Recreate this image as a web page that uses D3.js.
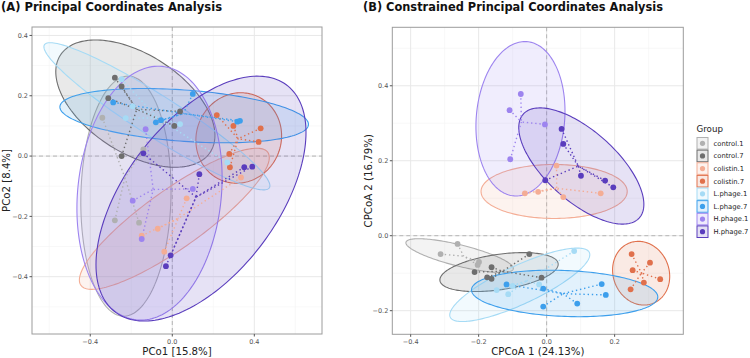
<!DOCTYPE html>
<html>
<head>
<meta charset="utf-8">
<script src="https://cdn.jsdelivr.net/npm/d3@7"></script>
<style>
  body { margin: 0; background: #fff; }
  svg { display: block; }
  text { font-family: "DejaVu Sans", sans-serif; }
</style>
</head>
<body>
<svg width="750" height="358"></svg>
<script>
// groups and colours
const groups = ["control.1", "control.7", "colistin.1", "colistin.7",
                "L.phage.1", "L.phage.7", "H.phage.1", "H.phage.7"];
const groupColors = ["#b0b0b0", "#6e6e6e", "#f4ad95", "#e0704c",
                     "#a6dbf5", "#3d9fec", "#9d84ef", "#5a3dbd"];

// (A) PCoA sample scores [group, PCo1, PCo2]
const pcoaPoints = [
  ["control.1", -0.341, 0.127], ["control.1", -0.141, 0.022], ["control.1", -0.280, -0.213], ["control.1", -0.162, -0.221],
  ["control.7", -0.280, 0.260], ["control.7", -0.247, 0.231], ["control.7", -0.312, 0.192], ["control.7", -0.247, 0.000],
  ["control.7", 0.010, 0.100], ["control.7", 0.038, 0.148],
  ["colistin.1", 0.335, -0.071], ["colistin.1", 0.070, -0.140], ["colistin.1", -0.071, -0.241], ["colistin.1", -0.149, -0.264],
  ["colistin.1", -0.039, -0.317],
  ["colistin.7", 0.217, 0.136], ["colistin.7", 0.298, 0.100], ["colistin.7", 0.431, 0.092], ["colistin.7", 0.421, 0.047],
  ["colistin.7", 0.278, 0.007], ["colistin.7", 0.281, -0.037],
  ["L.phage.1", -0.247, 0.255], ["L.phage.1", -0.227, 0.126], ["L.phage.1", -0.193, 0.165], ["L.phage.1", 0.038, 0.106],
  ["L.phage.1", 0.268, -0.021],
  ["L.phage.7", 0.100, 0.206], ["L.phage.7", -0.288, 0.178], ["L.phage.7", -0.080, 0.112], ["L.phage.7", -0.055, 0.119],
  ["L.phage.7", 0.317, 0.114], ["L.phage.7", 0.330, 0.117],
  ["H.phage.1", -0.130, 0.089], ["H.phage.1", -0.193, -0.148], ["H.phage.1", -0.149, -0.275], ["H.phage.1", 0.100, -0.109],
  ["H.phage.7", -0.141, 0.009], ["H.phage.7", 0.351, -0.037], ["H.phage.7", 0.390, -0.035], ["H.phage.7", 0.132, -0.060],
  ["H.phage.7", -0.008, -0.329], ["H.phage.7", -0.031, -0.365]
];

// (A) 95% ellipses [group, centre x, centre y, half-width x, half-height y, correlation]
const pcoaEllipses = [
  ["control.1", -0.226, -0.133, 0.220, 0.398, 0.05],
  ["control.7", -0.180, 0.174, 0.388, 0.211, -0.50],
  ["colistin.1", 0.010, -0.208, 0.463, 0.234, 0.868],
  ["colistin.7", 0.324, 0.060, 0.209, 0.150, 0.05],
  ["L.phage.1", -0.075, 0.132, 0.551, 0.244, -0.944],
  ["L.phage.7", 0.058, 0.134, 0.606, 0.090, -0.32],
  ["H.phage.1", -0.111, -0.123, 0.354, 0.421, 0.12],
  ["H.phage.7", 0.140, -0.141, 0.512, 0.406, 0.54]
];

// (B) CPCoA sample scores [group, CPCoA1, CPCoA2]
const cpcoaPoints = [
  ["control.1", -0.262, -0.022], ["control.1", -0.312, -0.049], ["control.1", -0.199, -0.070], ["control.1", -0.203, -0.078],
  ["control.7", -0.051, -0.049], ["control.7", -0.162, -0.084], ["control.7", -0.212, -0.097], ["control.7", -0.015, -0.112],
  ["control.7", -0.175, -0.111], ["control.7", -0.162, -0.115],
  ["colistin.1", 0.029, 0.187], ["colistin.1", -0.064, 0.113], ["colistin.1", -0.025, 0.117], ["colistin.1", 0.049, 0.103],
  ["colistin.1", 0.159, 0.113],
  ["colistin.7", 0.250, -0.049], ["colistin.7", 0.304, -0.072], ["colistin.7", 0.253, -0.092], ["colistin.7", 0.334, -0.116],
  ["colistin.7", 0.286, -0.125], ["colistin.7", 0.247, -0.143],
  ["L.phage.1", 0.081, -0.041], ["L.phage.1", -0.022, -0.130], ["L.phage.1", -0.100, -0.134], ["L.phage.1", -0.147, -0.145],
  ["L.phage.1", -0.113, -0.156],
  ["L.phage.7", -0.118, -0.130], ["L.phage.7", -0.010, -0.141], ["L.phage.7", 0.162, -0.129], ["L.phage.7", 0.174, -0.158],
  ["L.phage.7", 0.090, -0.181], ["L.phage.7", -0.010, -0.189],
  ["H.phage.1", -0.076, 0.378], ["H.phage.1", -0.109, 0.335], ["H.phage.1", -0.005, 0.297], ["H.phage.1", -0.107, 0.204],
  ["H.phage.7", 0.044, 0.285], ["H.phage.7", 0.049, 0.245], ["H.phage.7", 0.101, 0.160], ["H.phage.7", 0.172, 0.147],
  ["H.phage.7", 0.196, 0.129], ["H.phage.7", -0.004, 0.148]
];

const cpcoaEllipses = [
  ["control.1", -0.256, -0.053, 0.158, 0.045, -0.76],
  ["control.7", -0.140, -0.097, 0.174, 0.052, 0.40],
  ["colistin.1", 0.022, 0.118, 0.215, 0.072, 0.0],
  ["colistin.7", 0.278, -0.100, 0.084, 0.085, -0.10],
  ["L.phage.1", -0.079, -0.131, 0.206, 0.098, 0.82],
  ["L.phage.7", 0.053, -0.154, 0.274, 0.062, -0.15],
  ["H.phage.1", -0.077, 0.312, 0.131, 0.206, 0.10],
  ["H.phage.7", 0.102, 0.186, 0.184, 0.155, -0.66]
];

// axes
const pcoaXTicks = [-0.4, 0.0, 0.4];
const pcoaYTicks = [-0.4, -0.2, 0.0, 0.2, 0.4];
const cpcoaXTicks = [-0.4, -0.2, 0.0, 0.2];
const cpcoaYTicks = [-0.2, 0.0, 0.2, 0.4];

let svg = d3.select("svg");
const color = d3.scaleOrdinal(groups, groupColors);

function drawPanel(p) {
  const x = d3.scaleLinear(p.xDomain, [p.left, p.right]);
  const y = d3.scaleLinear(p.yDomain, [p.bottom, p.top]);
  const g = svg.append("g");

  g.append("rect")
    .attr("x", p.left).attr("y", p.top)
    .attr("width", p.right - p.left).attr("height", p.bottom - p.top)
    .attr("fill", "#fff");

  // minor grid halfway between the major ticks
  function minors(ticks, dom) {
    const step = ticks[1] - ticks[0];
    const out = [];
    for (let v = ticks[0] - step * 1.5; v <= dom[1]; v += step) {
      if (v >= dom[0]) out.push(v);
    }
    return out;
  }
  g.selectAll(".gxm").data(minors(p.xTicks, p.xDomain)).enter().append("line")
    .attr("x1", d => x(d)).attr("x2", d => x(d)).attr("y1", p.top).attr("y2", p.bottom)
    .attr("stroke", "#f3f3f3").attr("stroke-width", 0.6);
  g.selectAll(".gym").data(minors(p.yTicks, p.yDomain)).enter().append("line")
    .attr("y1", d => y(d)).attr("y2", d => y(d)).attr("x1", p.left).attr("x2", p.right)
    .attr("stroke", "#f3f3f3").attr("stroke-width", 0.6);
  g.selectAll(".gx").data(p.xTicks).enter().append("line")
    .attr("x1", d => x(d)).attr("x2", d => x(d)).attr("y1", p.top).attr("y2", p.bottom)
    .attr("stroke", "#e8e8e8").attr("stroke-width", 1);
  g.selectAll(".gy").data(p.yTicks).enter().append("line")
    .attr("y1", d => y(d)).attr("y2", d => y(d)).attr("x1", p.left).attr("x2", p.right)
    .attr("stroke", "#e8e8e8").attr("stroke-width", 1);

  // zero lines
  g.append("line").attr("x1", x(0)).attr("x2", x(0)).attr("y1", p.top).attr("y2", p.bottom)
    .attr("stroke", "#b5b5b5").attr("stroke-dasharray", "4,3");
  g.append("line").attr("y1", y(0)).attr("y2", y(0)).attr("x1", p.left).attr("x2", p.right)
    .attr("stroke", "#b5b5b5").attr("stroke-dasharray", "4,3");

  const clipId = "clip" + p.id;
  svg.append("clipPath").attr("id", clipId).append("rect")
    .attr("x", p.left).attr("y", p.top)
    .attr("width", p.right - p.left).attr("height", p.bottom - p.top);
  const plot = g.append("g").attr("clip-path", "url(#" + clipId + ")");

  // ellipses
  const ell = d3.line().x(d => x(d[0])).y(d => y(d[1])).curve(d3.curveLinearClosed);
  function ellipsePts(e) {
    const [, cx, cy, sx, sy, r] = e;
    const k = Math.sqrt(1 - r * r);
    return d3.range(0, 2 * Math.PI, Math.PI / 90)
      .map(t => [cx + sx * Math.cos(t), cy + sy * (r * Math.cos(t) + k * Math.sin(t))]);
  }
  plot.selectAll(".ell").data(p.ellipses).enter().append("path")
    .attr("d", d => ell(ellipsePts(d)))
    .attr("fill", d => color(d[0])).attr("fill-opacity", 0.15)
    .attr("stroke", d => color(d[0])).attr("stroke-width", 1.1);

  // spider lines to group centroids
  const cent = d3.rollup(p.points, v => [d3.mean(v, d => d[1]), d3.mean(v, d => d[2])], d => d[0]);
  plot.selectAll(".sp").data(p.points).enter().append("line")
    .attr("x1", d => x(d[1])).attr("y1", d => y(d[2]))
    .attr("x2", d => x(cent.get(d[0])[0])).attr("y2", d => y(cent.get(d[0])[1]))
    .attr("stroke", d => color(d[0])).attr("stroke-width", 1.4)
    .attr("stroke-dasharray", "1.4,2.8");

  plot.selectAll(".pt").data(p.points).enter().append("circle")
    .attr("cx", d => x(d[1])).attr("cy", d => y(d[2])).attr("r", 2.9)
    .attr("fill", d => color(d[0]));

  // border
  g.append("rect")
    .attr("x", p.left).attr("y", p.top)
    .attr("width", p.right - p.left).attr("height", p.bottom - p.top)
    .attr("fill", "none").attr("stroke", "#9c9c9c").attr("stroke-width", 1);

  // ticks
  g.selectAll(".tx").data(p.xTicks).enter().append("line")
    .attr("x1", d => x(d)).attr("x2", d => x(d)).attr("y1", p.bottom).attr("y2", p.bottom + 2.5)
    .attr("stroke", "#555");
  g.selectAll(".ty").data(p.yTicks).enter().append("line")
    .attr("y1", d => y(d)).attr("y2", d => y(d)).attr("x1", p.left - 2.5).attr("x2", p.left)
    .attr("stroke", "#555");
  const fmt = d3.format(".1f");
  g.selectAll(".lx").data(p.xTicks).enter().append("text")
    .attr("x", d => x(d)).attr("y", p.bottom + 9.5)
    .attr("text-anchor", "middle").attr("font-size", 6.5).attr("fill", "#555")
    .text(d => fmt(d));
  g.selectAll(".ly").data(p.yTicks).enter().append("text")
    .attr("x", p.left - 4).attr("y", d => y(d) + 2.3)
    .attr("text-anchor", "end").attr("font-size", 6.5).attr("fill", "#555")
    .text(d => fmt(d));

  g.append("text")
    .attr("x", (p.left + p.right) / 2).attr("y", 355)
    .attr("text-anchor", "middle").attr("font-size", 10.2).attr("fill", "#222")
    .text(p.xLabel);
  g.append("text")
    .attr("transform", "translate(" + p.yLabelX + "," + (p.top + p.bottom) / 2 + ") rotate(-90)")
    .attr("text-anchor", "middle").attr("font-size", 10.2).attr("fill", "#222")
    .text(p.yLabel);

  g.append("text")
    .attr("x", p.titleX).attr("y", 11)
    .attr("font-family", "'Liberation Sans Narrow', 'DejaVu Sans Condensed', sans-serif")
    .attr("font-weight", "bold").attr("font-size", 12.5).attr("fill", "#111")
    .attr("textLength", p.titleW).attr("lengthAdjust", "spacingAndGlyphs")
    .text(p.title);
}

drawPanel({
  id: "A", title: "(A) Principal Coordinates Analysis", titleX: 1, titleW: 221,
  left: 32, right: 322, top: 27, bottom: 334,
  xDomain: [-0.684, 0.730], yDomain: [-0.590, 0.428],
  xTicks: pcoaXTicks, yTicks: pcoaYTicks,
  points: pcoaPoints, ellipses: pcoaEllipses,
  xLabel: "PCo1 [15.8%]", yLabel: "PCo2 [8.4%]", yLabelX: 10
});

drawPanel({
  id: "B", title: "(B) Constrained Principal Coordinates Analysis", titleX: 363, titleW: 300,
  left: 392.3, right: 683.3, top: 27.3, bottom: 334.3,
  xDomain: [-0.454, 0.402], yDomain: [-0.263, 0.556],
  xTicks: cpcoaXTicks, yTicks: cpcoaYTicks,
  points: cpcoaPoints, ellipses: cpcoaEllipses,
  xLabel: "CPCoA 1 (24.13%)", yLabel: "CPCoA 2 (16.79%)", yLabelX: 372
});

// legend
const legend = svg.append("g");
legend.append("text").attr("x", 696.5).attr("y", 131.5)
  .attr("font-size", 8.7).attr("fill", "#222").text("Group");
const row = legend.selectAll(".key").data(groups).enter().append("g")
  .attr("transform", (d, i) => "translate(697," + (143.3 + i * 12.63) + ")");
row.append("rect").attr("x", 0).attr("y", -5.8).attr("width", 11).attr("height", 11.6)
  .attr("fill", d => color(d)).attr("fill-opacity", 0.16)
  .attr("stroke", d => color(d)).attr("stroke-width", 1);
row.append("circle").attr("cx", 5.5).attr("cy", 0).attr("r", 2.6).attr("fill", d => color(d));
row.append("text").attr("x", 16.5).attr("y", 2.4)
  .attr("font-size", 6.8).attr("fill", "#222").text(d => d);
</script>
</body>
</html>
